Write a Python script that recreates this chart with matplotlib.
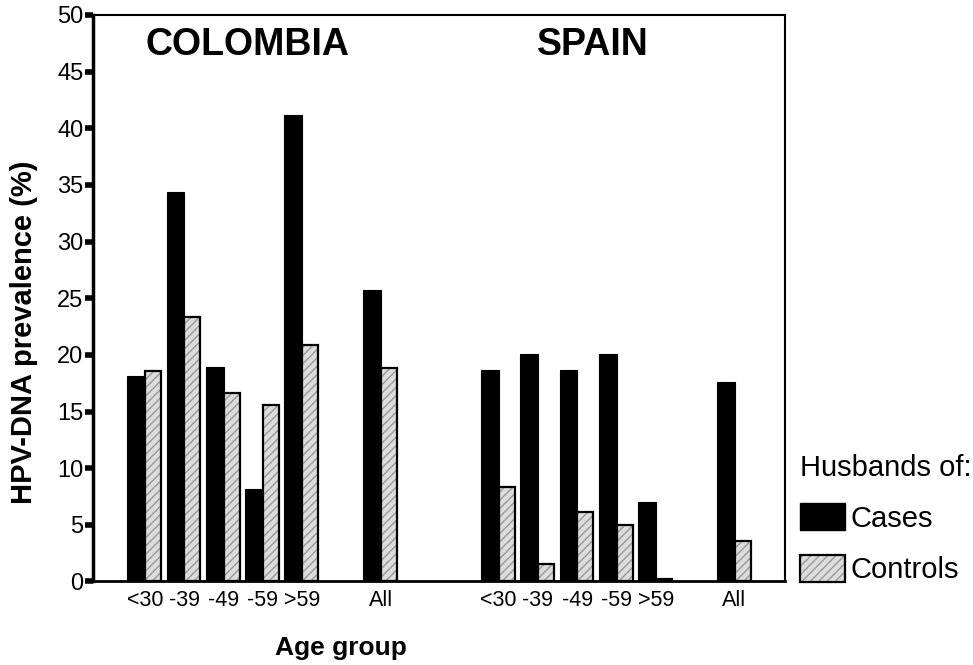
import matplotlib.pyplot as plt
import numpy as np
from matplotlib.patches import Patch

plt.rcParams['font.family'] = ['Liberation Sans', 'DejaVu Sans']

age_groups = ['<30', '-39', '-49', '-59', '>59', 'All']
colombia_cases = [18.1, 34.4, 18.9, 8.2, 41.2, 25.7]
colombia_controls = [18.6, 23.3, 16.6, 15.6, 20.9, 18.8]
spain_cases = [18.7, 20.1, 18.7, 20.1, 7.0, 17.6]
spain_controls = [8.3, 1.5, 6.1, 5.0, 0.2, 3.6]

# slot positions: 5 age groups, gap, "All"; then a wider gap to Spain
col_pos = np.array([0, 1, 2, 3, 4, 6])
spa_pos = col_pos + 9

fig = plt.figure(figsize=(9.73, 6.65), dpi=100)
ax = fig.add_axes([0.0956, 0.1256, 0.711, 0.852])

w = 0.45
ctrl_face = '#dcdcdc'
ctrl_hatch = '#999999'

for pos, cases, ctrls in [(col_pos, colombia_cases, colombia_controls),
                          (spa_pos, spain_cases, spain_controls)]:
    ax.bar(pos - w / 2, cases, w, color='black', edgecolor='black', linewidth=0.8)
    ax.bar(pos + w / 2 - 0.02, ctrls, w * 0.9, color=ctrl_face, edgecolor=ctrl_hatch,
           hatch='////', linewidth=0)
    ax.bar(pos + w / 2 - 0.02, ctrls, w * 0.9, fill=False, edgecolor='black', linewidth=1.6)

ax.set_xlim(-1.32, 16.28)
ax.set_ylim(0, 50)
ax.set_yticks(np.arange(0, 51, 5))
ax.tick_params(axis='y', direction='out', length=6, width=4, labelsize=17, pad=1)
ax.set_xticks(np.concatenate([col_pos, spa_pos]))
ax.set_xticklabels(age_groups + age_groups, fontsize=15.5)
ax.tick_params(axis='x', length=0, pad=6)

ax.spines['left'].set_linewidth(2.5)
ax.spines['bottom'].set_linewidth(2.0)
ax.spines['top'].set_linewidth(1.5)
ax.spines['right'].set_linewidth(1.5)

ax.text(2.6, 47.3, 'COLOMBIA', fontsize=27, fontweight='bold', ha='center', va='center')
ax.text(11.4, 47.3, 'SPAIN', fontsize=27, fontweight='bold', ha='center', va='center')

fig.text(0.025, 0.5, 'HPV-DNA prevalence (%)', fontsize=21, fontweight='bold',
         rotation=90, ha='center', va='center')
fig.text(0.35, 0.008, 'Age group', fontsize=19, fontweight='bold', ha='center', va='bottom')

h_cases = Patch(facecolor='black', edgecolor='black')
h_ctrl = (Patch(facecolor=ctrl_face, edgecolor=ctrl_hatch, hatch='////', linewidth=0),
          Patch(fill=False, edgecolor='black', linewidth=1.6))
fig.legend([h_cases, h_ctrl], ['Cases', 'Controls'], title='Husbands of:',
           loc='upper left', bbox_to_anchor=(0.822, 0.318), frameon=False,
           fontsize=21, title_fontsize=21, alignment='left',
           handlelength=1.55, handleheight=1.05, handletextpad=0.2,
           labelspacing=0.75, borderaxespad=0, borderpad=0)

fig.savefig('out.png')
